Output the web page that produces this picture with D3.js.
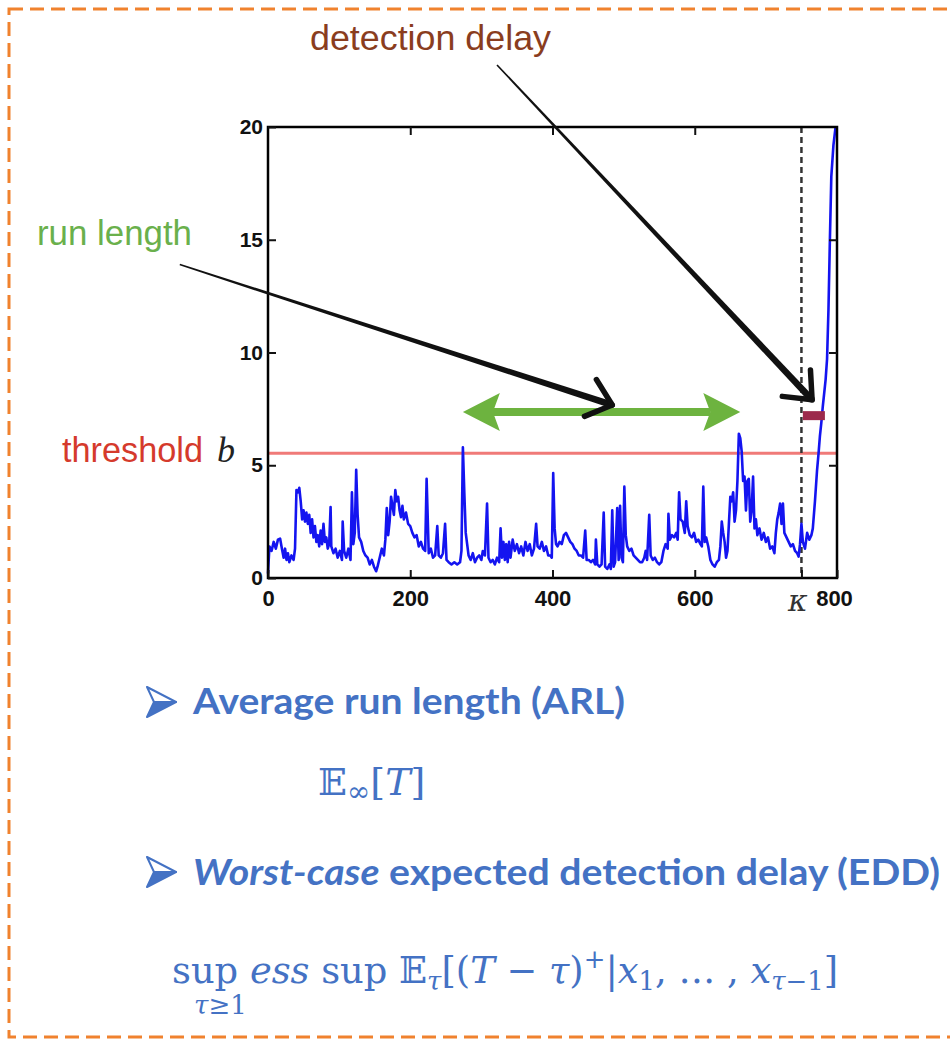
<!DOCTYPE html>
<html>
<head>
<meta charset="utf-8">
<script src="https://cdn.jsdelivr.net/npm/d3@7"></script>
<style>
  body { margin: 0; background: #fff; }
  svg { display: block; }
</style>
</head>
<body>
<div id="chart"></div>
<script>
// CUSUM statistic: [time, value]
const cusum = [
  [0,0.2],[2,1.4],[5,1.2],[8,1.6],[11,1.3],[14,1.7],[17,1.75],[19,1.4],[22,0.9],[24,1.3],
  [26,0.8],[28,1.1],[30,0.7],[33,1.0],[36,0.8],[38,1.3],[40,3.9],[42,3.8],[44,4.0],[46,3.4],
  [48,2.6],[50,3.0],[52,2.5],[54,2.9],[56,2.4],[58,2.8],[60,2.0],[62,2.6],[64,1.8],[66,2.3],
  [68,1.6],[70,1.9],[72,1.4],[74,2.1],[76,1.5],[78,2.4],[80,1.6],[82,1.8],[84,1.3],[86,1.5],
  [88,3.15],[89,1.4],[92,1.1],[95,1.3],[98,0.9],[101,1.2],[104,0.8],[105,2.5],[107,1.2],[110,0.9],
  [113,1.3],[116,0.8],[118,3.8],[120,1.5],[122,2.0],[124,4.8],[126,2.8],[128,1.8],[131,1.6],[134,1.2],
  [137,1.0],[140,0.9],[143,0.6],[146,0.8],[149,0.5],[152,0.3],[154,0.5],[157,0.9],[160,1.3],[163,1.0],
  [165,1.7],[167,3.1],[169,1.9],[171,2.5],[173,3.6],[175,3.2],[177,2.8],[179,3.9],[181,3.4],[183,3.6],
  [185,3.0],[187,2.7],[189,3.2],[191,2.6],[194,2.9],[197,2.4],[200,2.3],[203,2.0],[206,1.8],[209,1.9],
  [212,1.4],[215,1.6],[218,1.3],[221,1.2],[223,4.4],[226,1.1],[229,1.3],[232,0.9],[235,1.0],[238,2.3],
  [240,1.0],[243,0.9],[246,1.1],[249,2.4],[251,0.8],[254,0.7],[258,0.6],[262,0.7],[266,0.6],[270,0.7],
  [272,1.2],[274,5.8],[276,3.8],[278,2.0],[280,1.5],[282,1.0],[285,0.8],[288,1.1],[291,0.7],[294,0.9],
  [297,1.0],[300,0.8],[302,1.2],[305,1.0],[308,3.3],[310,0.9],[313,0.7],[316,0.8],[319,0.6],[322,0.9],
  [325,0.7],[327,2.2],[329,0.9],[331,1.6],[333,0.8],[335,1.5],[337,0.7],[339,1.6],[341,0.9],[344,1.7],
  [347,1.2],[350,1.5],[353,1.1],[356,1.4],[359,1.0],[362,1.6],[365,1.2],[368,1.5],[371,1.0],[374,1.3],
  [377,2.4],[379,1.4],[382,1.3],[385,1.6],[388,1.2],[391,1.4],[394,1.0],[397,1.0],[399,0.9],[401,4.65],
  [403,2.2],[405,1.5],[407,1.4],[410,1.6],[413,1.5],[416,1.9],[419,2.0],[422,1.8],[425,1.6],[428,1.5],
  [431,1.3],[434,1.2],[437,1.0],[440,1.0],[443,0.9],[446,2.1],[448,0.8],[451,0.8],[454,0.7],[457,0.8],
  [460,0.6],[461,1.7],[463,0.6],[466,0.5],[469,0.6],[472,2.9],[474,0.5],[477,0.4],[480,0.6],[482,0.4],
  [484,3.0],[486,0.5],[488,0.7],[491,3.1],[493,0.8],[495,3.2],[497,0.9],[499,0.7],[501,4.05],[503,1.9],
  [505,1.4],[508,1.2],[511,1.3],[514,1.0],[517,0.9],[520,0.8],[523,0.7],[526,0.7],[529,0.9],[531,1.2],
  [533,0.8],[536,2.8],[538,1.0],[541,0.8],[544,0.9],[547,0.7],[550,0.6],[553,0.7],[556,1.2],[559,1.5],
  [562,1.3],[563,2.85],[565,1.7],[568,1.9],[571,1.8],[574,2.0],[576,1.7],[578,3.8],[580,2.6],[583,2.5],
  [586,2.0],[588,3.4],[590,2.3],[593,1.9],[596,1.8],[599,2.0],[602,1.6],[605,1.7],[608,1.5],[610,1.4],
  [612,4.05],[614,1.6],[616,1.8],[619,1.4],[622,0.8],[625,0.6],[628,0.5],[631,0.7],[634,0.8],[636,1.4],
  [638,2.5],[640,2.0],[642,1.6],[644,0.9],[646,1.2],[648,2.4],[650,3.6],[652,3.4],[654,3.8],[656,2.5],
  [658,3.0],[660,4.3],[662,6.4],[664,6.2],[666,5.6],[668,4.3],[670,4.5],[672,3.0],[674,4.3],[676,4.4],
  [678,2.5],[680,3.0],[682,4.5],[684,2.2],[686,2.6],[688,1.9],[691,2.2],[694,1.7],[697,2.0],[700,1.6],
  [703,1.8],[706,1.3],[709,1.4],[712,1.1],[714,2.0],[716,2.6],[718,2.9],[720,3.3],[722,2.4],[724,3.3],
  [726,2.0],[729,1.8],[732,1.6],[735,1.4],[738,1.5],[741,1.2],[744,1.1],[746,0.95],[748,1.5],[750,2.4],
  [752,1.6],[755,1.3],[758,2.0],[761,1.7],[764,1.9],[766,2.2],[769,3.4],[772,4.8],[774,5.5],[776,6.3],
  [778,6.9],[780,7.6],[782,8.2],[784,8.8],[786,9.7],[788,11.9],[790,15.0],[792,17.8],[795,19.2],[798,20.0]
];

const xTicks = [0, 200, 400, 600, 750, 800];
const xTickLabels = ["0", "200", "400", "600", "\u03ba", "800"];
const yTicks = [0, 5, 10, 15, 20];

const threshold = 5.53;
const kappa = 750;
const runSpan = [274, 664];
const runLevel = 7.36;
const delaySpan = [752, 783];
const delayLevel = 7.2;

// annotation arrows, in data units: [tail, tip]
const runPointer = [[-124, 13.9], [484, 7.67]];
const delayPointer = [[322, 22.75], [765, 7.9]];

const W = 950, H = 1045;
const blue = "#4472c4";

const svg = d3.select("#chart")
  .append("svg")
  .attr("width", W)
  .attr("height", H);

// dashed orange frame
svg.append("rect")
  .attr("x", 9).attr("y", 9)
  .attr("width", 970).attr("height", 1028)
  .attr("fill", "none")
  .attr("stroke", "#f0822e")
  .attr("stroke-width", 3)
  .attr("stroke-dasharray", "14,7");

const x = d3.scaleLinear().domain([0, 800]).range([268, 837]);
const y = d3.scaleLinear().domain([0, 20]).range([578, 127]);

const plot = svg.append("g");

// threshold
plot.append("line")
  .attr("x1", x(0)).attr("x2", x(800))
  .attr("y1", y(threshold)).attr("y2", y(threshold))
  .attr("stroke", "#f07a78")
  .attr("stroke-width", 3);

// change point
plot.append("line")
  .attr("x1", x(kappa)).attr("x2", x(kappa))
  .attr("y1", y(20)).attr("y2", y(0))
  .attr("stroke", "#333")
  .attr("stroke-width", 2.5)
  .attr("stroke-dasharray", "6,4");

// statistic
const line = d3.line().x(d => x(d[0])).y(d => y(d[1]));
plot.append("path")
  .datum(cusum)
  .attr("d", line)
  .attr("fill", "none")
  .attr("stroke", "#1414f0")
  .attr("stroke-width", 2.6)
  .attr("stroke-linejoin", "round");

// detection delay bar
plot.append("line")
  .attr("x1", x(delaySpan[0])).attr("x2", x(delaySpan[1]))
  .attr("y1", y(delayLevel)).attr("y2", y(delayLevel))
  .attr("stroke", "#9c2a4c")
  .attr("stroke-width", 9);

// run length double arrow
const green = "#6db33f";
const headL = 37, headH = 19, notch = 7;
const ax0 = x(runSpan[0]), ax1 = x(runSpan[1]), ay = y(runLevel);
plot.append("line")
  .attr("x1", ax0 + headL - notch).attr("x2", ax1 - headL + notch)
  .attr("y1", ay).attr("y2", ay)
  .attr("stroke", green)
  .attr("stroke-width", 8);
plot.append("path")
  .attr("d", `M${ax0},${ay} L${ax0 + headL},${ay - headH} L${ax0 + headL - notch},${ay} L${ax0 + headL},${ay + headH} Z`)
  .attr("fill", green);
plot.append("path")
  .attr("d", `M${ax1},${ay} L${ax1 - headL},${ay - headH} L${ax1 - headL + notch},${ay} L${ax1 - headL},${ay + headH} Z`)
  .attr("fill", green);

// frame
plot.append("rect")
  .attr("x", x(0)).attr("y", y(20))
  .attr("width", x(800) - x(0)).attr("height", y(0) - y(20))
  .attr("fill", "none")
  .attr("stroke", "#000")
  .attr("stroke-width", 2.5);

const tickFont = "'Liberation Sans', Arial, sans-serif";

const bottomAxis = plot.append("g")
  .attr("transform", `translate(0,${y(0)})`)
  .call(d3.axisBottom(x).tickValues(xTicks)
    .tickFormat((d, i) => xTickLabels[i])
    .tickSizeInner(-8).tickSizeOuter(0).tickPadding(12));
bottomAxis.selectAll("text")
  .attr("font-family", tickFont)
  .attr("font-weight", "bold")
  .attr("font-size", 22)
  .attr("fill", "#111");
bottomAxis.selectAll(".tick")
  .filter(d => d === kappa)
  .select("text")
  .attr("dx", -4)
  .attr("font-family", "'DejaVu Serif', serif")
  .attr("font-style", "italic")
  .attr("font-weight", "normal")
  .attr("font-size", 30)
  .attr("fill", "#333");
bottomAxis.selectAll(".tick").filter(d => d === 800).select("text").attr("dx", -3);

const leftAxis = plot.append("g")
  .attr("transform", `translate(${x(0)},0)`)
  .call(d3.axisLeft(y).tickValues(yTicks)
    .tickSizeInner(-8).tickSizeOuter(0).tickPadding(5));
leftAxis.selectAll("text")
  .attr("font-family", tickFont)
  .attr("font-weight", "bold")
  .attr("font-size", 21)
  .attr("fill", "#111");

plot.append("g")
  .attr("transform", `translate(0,${y(20)})`)
  .call(d3.axisTop(x).tickValues([200, 400, 600]).tickFormat("").tickSizeInner(-8).tickSizeOuter(0));
plot.append("g")
  .attr("transform", `translate(${x(800)},0)`)
  .call(d3.axisRight(y).tickValues([5, 10, 15]).tickFormat("").tickSizeInner(-8).tickSizeOuter(0));

plot.selectAll(".domain").remove();
plot.selectAll(".tick line").attr("stroke", "#111").attr("stroke-width", 2);

// black hand-drawn style pointers
function pointer(p) {
  const t0 = [x(p[0][0]), y(p[0][1])], t1 = [x(p[1][0]), y(p[1][1])];
  const dx = t1[0] - t0[0], dy = t1[1] - t0[1];
  const len = Math.hypot(dx, dy);
  const ux = dx / len, uy = dy / len, nx = -uy, ny = ux;
  const w0 = 0.8, w1 = 3.4;
  svg.append("path")
    .attr("d", `M${t0[0] + nx * w0},${t0[1] + ny * w0} L${t1[0] + nx * w1},${t1[1] + ny * w1} L${t1[0] - nx * w1},${t1[1] - ny * w1} L${t0[0] - nx * w0},${t0[1] - ny * w0} Z`)
    .attr("fill", "#111");
  const back = Math.atan2(-dy, -dx);
  [-0.7, 0.7].forEach(a => {
    const ang = back + a;
    svg.append("line")
      .attr("x1", t1[0]).attr("y1", t1[1])
      .attr("x2", t1[0] + Math.cos(ang) * 30).attr("y2", t1[1] + Math.sin(ang) * 30)
      .attr("stroke", "#111")
      .attr("stroke-width", 5.5)
      .attr("stroke-linecap", "round");
  });
}
pointer(runPointer);
pointer(delayPointer);

// labels
const labelFont = "'Liberation Sans', Arial, sans-serif";
svg.append("text")
  .attr("x", 310).attr("y", 50)
  .attr("font-family", labelFont).attr("font-size", 35)
  .attr("fill", "#8a3d1e")
  .attr("textLength", 241).attr("lengthAdjust", "spacingAndGlyphs")
  .text("detection delay");
svg.append("text")
  .attr("x", 37).attr("y", 245)
  .attr("font-family", labelFont).attr("font-size", 35)
  .attr("fill", "#6ab04c")
  .attr("textLength", 155).attr("lengthAdjust", "spacingAndGlyphs")
  .text("run length");
svg.append("text")
  .attr("x", 62).attr("y", 462)
  .attr("font-family", labelFont).attr("font-size", 35)
  .attr("fill", "#d53a2c")
  .attr("textLength", 141).attr("lengthAdjust", "spacingAndGlyphs")
  .text("threshold");
svg.append("text")
  .attr("x", 217).attr("y", 462)
  .attr("font-family", "'Liberation Serif', serif")
  .attr("font-style", "italic")
  .attr("font-size", 36)
  .attr("fill", "#222")
  .text("b");

// text under the chart
const bodyFont = "Lato, 'Noto Sans', sans-serif";
function bullet(yc) {
  const bx = 147;
  svg.append("path")
    .attr("d", `M${bx},${yc - 15} L${bx + 29},${yc} L${bx + 7},${yc} Z`)
    .attr("fill", "#fff").attr("stroke", blue).attr("stroke-width", 2).attr("stroke-linejoin", "round");
  svg.append("path")
    .attr("d", `M${bx + 7},${yc} L${bx + 29},${yc} L${bx},${yc + 15} Z`)
    .attr("fill", blue).attr("stroke", blue).attr("stroke-width", 2).attr("stroke-linejoin", "round");
}
bullet(702);
svg.append("text")
  .attr("x", 193).attr("y", 714)
  .attr("font-family", bodyFont).attr("font-weight", "bold").attr("font-size", 37)
  .attr("fill", blue)
  .attr("textLength", 432).attr("lengthAdjust", "spacingAndGlyphs")
  .text("Average run length (ARL)");

const mathFont = "'DejaVu Serif', 'Liberation Serif', serif";
const e1 = svg.append("text")
  .attr("x", 318).attr("y", 795)
  .attr("font-family", mathFont).attr("font-size", 38)
  .attr("fill", blue);
e1.append("tspan").text("\u{1D53C}");
e1.append("tspan").attr("font-size", 28).attr("dy", 6).text("\u221e");
e1.append("tspan").attr("dy", -6).text("[");
e1.append("tspan").attr("font-style", "italic").text("T");
e1.append("tspan").text("]");

bullet(872);
const t2 = svg.append("text")
  .attr("x", 193).attr("y", 885)
  .attr("font-family", bodyFont).attr("font-weight", "bold").attr("font-size", 37)
  .attr("fill", blue)
  .attr("textLength", 747).attr("lengthAdjust", "spacingAndGlyphs");
t2.append("tspan").attr("font-style", "italic").text("Worst-case");
t2.append("tspan").text(" expected detection delay (EDD)");

const f = svg.append("text")
  .attr("x", 172).attr("y", 983)
  .attr("font-family", mathFont).attr("font-size", 37)
  .attr("fill", blue)
  .attr("textLength", 666).attr("lengthAdjust", "spacingAndGlyphs");
f.append("tspan").text("sup ");
f.append("tspan").attr("font-style", "italic").text("ess");
f.append("tspan").text(" sup \u{1D53C}");
f.append("tspan").attr("font-style", "italic").attr("font-size", 26).attr("dy", 7).text("\u03c4");
f.append("tspan").attr("dy", -7).text("[(");
f.append("tspan").attr("font-style", "italic").text("T");
f.append("tspan").text(" \u2212 ");
f.append("tspan").attr("font-style", "italic").text("\u03c4");
f.append("tspan").text(")");
f.append("tspan").attr("font-size", 26).attr("dy", -15).text("+");
f.append("tspan").attr("dy", 15).text("|");
f.append("tspan").attr("font-style", "italic").text("x");
f.append("tspan").attr("font-size", 26).attr("dy", 7).text("1");
f.append("tspan").attr("dy", -7).text(", \u2026 , ");
f.append("tspan").attr("font-style", "italic").text("x");
f.append("tspan").attr("font-style", "italic").attr("font-size", 26).attr("dy", 7).text("\u03c4");
f.append("tspan").attr("font-size", 26).text("\u22121");
f.append("tspan").attr("dy", -7).text("]");

const sub = svg.append("text")
  .attr("x", 194).attr("y", 1014)
  .attr("font-family", mathFont).attr("font-size", 26)
  .attr("fill", blue);
sub.append("tspan").attr("font-style", "italic").text("\u03c4");
sub.append("tspan").text("\u22651");
</script>
</body>
</html>
